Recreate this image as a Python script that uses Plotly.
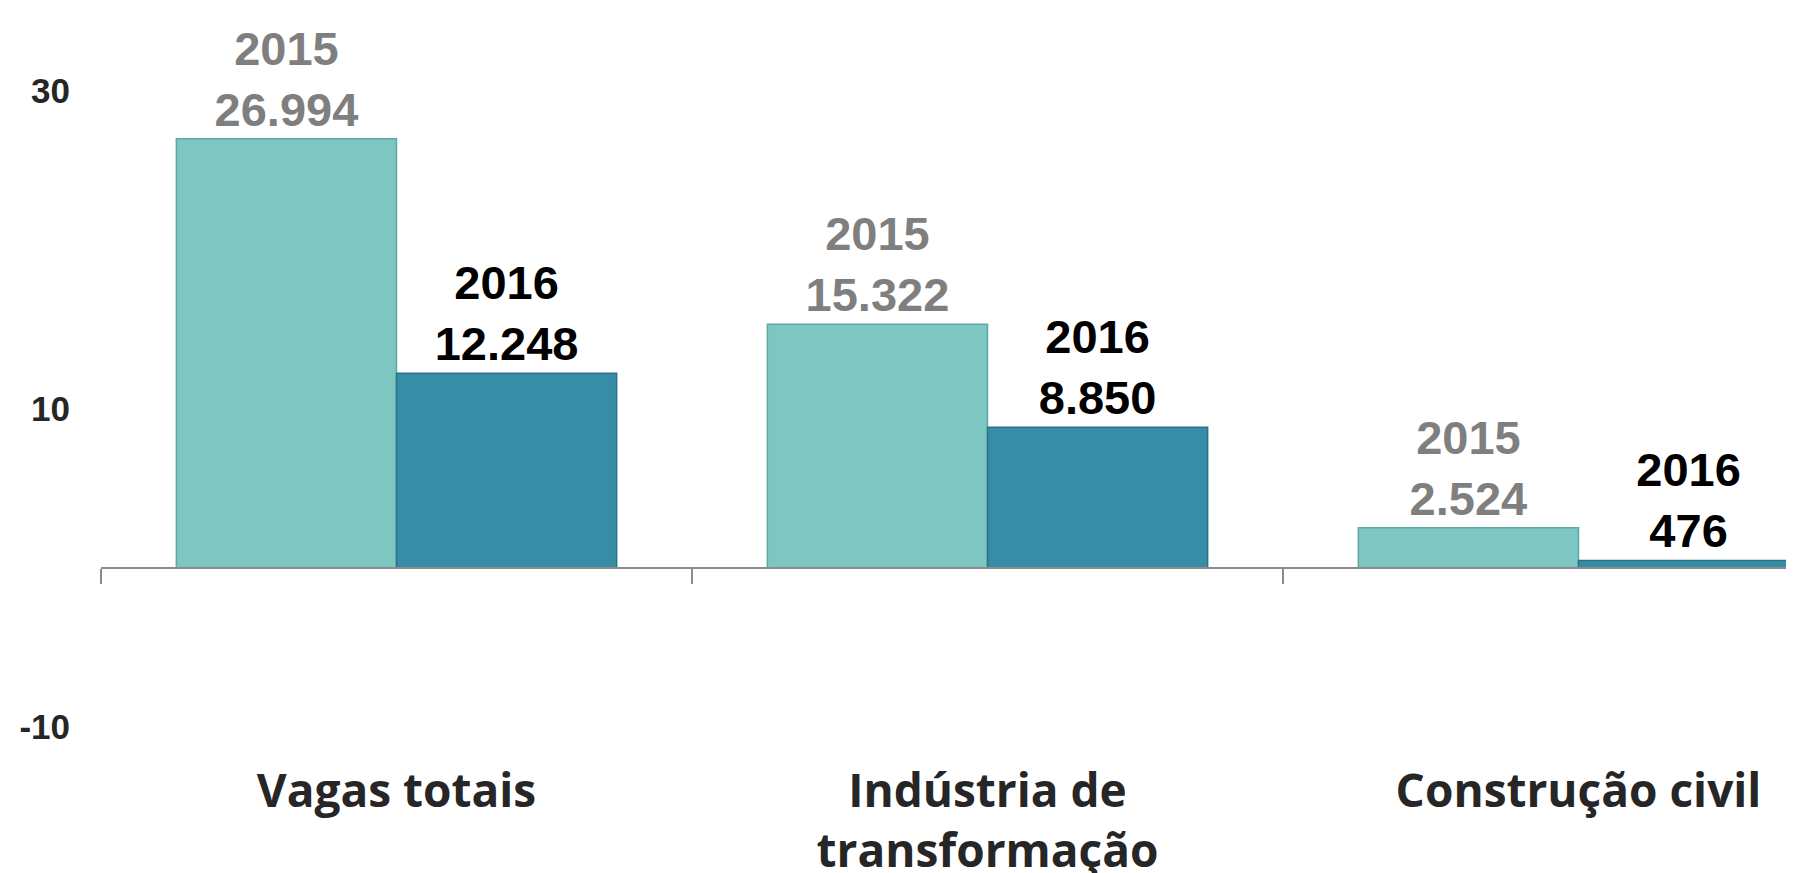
import plotly.graph_objects as go

# Saldo de vagas (em milhares no eixo)
categorias = ["Vagas totais", "Indústria de<br>transformação", "Construção civil"]
vagas_2015 = [26994, 15322, 2524]
vagas_2016 = [12248, 8850, 476]
anos = ["2015", "2016"]

y_ticks = [30, 10, -10]
y_tick_text = ["30", "10", "-10"]

W, H = 1794, 873
m_left, m_bottom = 93, 121
y_min, y_max = -12.08, 35.22
cat_px = 591  # largura de cada categoria em px
x_end = -0.5 + (W - m_left) / cat_px


def fmt_br(v):
    return f"{v:,.0f}".replace(",", ".")


fig = go.Figure()

fig.add_trace(go.Bar(
    x=categorias,
    y=[v / 1000 for v in vagas_2015],
    name=anos[0],
    text=[f"{anos[0]}<br>{fmt_br(v)}" for v in vagas_2015],
    textposition="outside",
    textfont=dict(family="Arial, Liberation Sans", size=47, color="#7f7f7f", weight="bold"),
    marker=dict(color="#7ec6c1", line=dict(color="#5fa9a4", width=1.5)),
    cliponaxis=False,
))

fig.add_trace(go.Bar(
    x=categorias,
    y=[v / 1000 for v in vagas_2016],
    name=anos[1],
    text=[f"{anos[1]}<br>{fmt_br(v)}" for v in vagas_2016],
    textposition="outside",
    textfont=dict(family="Arial, Liberation Sans", size=47, color="#000000", weight="bold"),
    marker=dict(color="#378da6", line=dict(color="#2a7289", width=1.5)),
    cliponaxis=False,
))

# invisible helper so the zero-line axis gets drawn
fig.add_trace(go.Scatter(
    x=categorias, y=[0] * len(categorias), xaxis="x2",
    mode="markers", marker=dict(opacity=0), hoverinfo="skip", showlegend=False,
))

zero_pos = (0 - y_min) / (y_max - y_min)

fig.update_layout(
    width=W, height=H,
    margin=dict(l=m_left, r=0, t=0, b=m_bottom),
    paper_bgcolor="white", plot_bgcolor="white",
    barmode="group", bargap=0.255, bargroupgap=0,
    showlegend=False,
    xaxis=dict(
        type="category", range=[-0.5, x_end], automargin=False,
        showline=False, ticks="", showgrid=False,
        tickfont=dict(family="Open Sans", size=46, color="#262626", weight="bold"),
        ticklabelstandoff=0,
    ),
    xaxis2=dict(
        type="category", overlaying="x", anchor="free", position=zero_pos,
        matches="x", showline=True, linecolor="#8c8c8c", linewidth=1.5,
        ticks="outside", tickson="boundaries", ticklen=15, tickcolor="#8c8c8c",
        tickwidth=1.5, showticklabels=False, showgrid=False, automargin=False,
    ),
    yaxis=dict(
        range=[y_min, y_max], tickvals=y_ticks, ticktext=y_tick_text,
        ticks="", showline=False, automargin=False,
        showgrid=False, zeroline=False,
        tickfont=dict(family="Arial, Liberation Sans", size=35, color="#262626", weight="bold"),
        ticklabelstandoff=30,
    ),
)

fig.write_html("out.html")
